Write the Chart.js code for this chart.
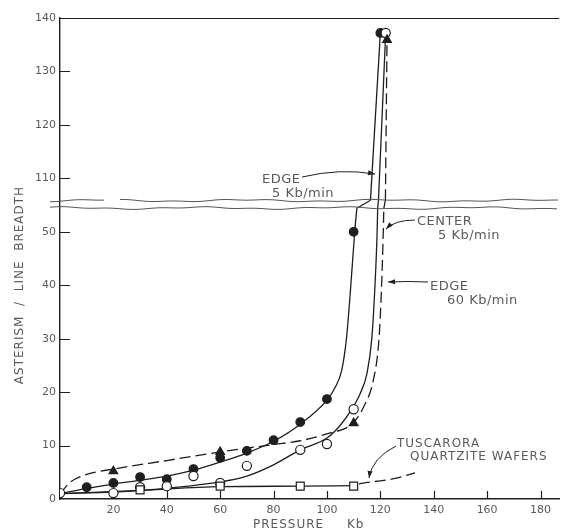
<!DOCTYPE html>
<html>
<head>
<meta charset="utf-8">
<script src="https://cdn.jsdelivr.net/npm/chart.js@4.4.1/dist/chart.umd.min.js"></script>
<style>
  html, body { margin: 0; padding: 0; background: #fff; }
  #wrap { width: 566px; height: 531px; }
</style>
</head>
<body>
<div id="wrap"><canvas id="chart" width="566" height="531"></canvas></div>
<script>
// measured points (pressure Kb, asterism / line breadth)
const edge5X = [10, 20, 30, 40, 50, 60, 70, 80, 90, 100, 110, 120];
const edge5Y = [2.2, 3.0, 4.1, 3.7, 5.6, 7.7, 9.0, 11.0, 14.4, 18.7, 50, 137.2];
const center5X = [0, 20, 30, 40, 50, 60, 70, 90, 100, 110, 122];
const center5Y = [1.1, 1.1, 2.2, 2.4, 4.3, 3.0, 6.2, 9.2, 10.3, 16.8, 137.2];
const edge60X = [20, 60, 110, 122.5];
const edge60Y = [5.2, 8.8, 14.2, 135.9];
const waferX = [30, 60, 90, 110];
const waferY = [1.7, 2.4, 2.4, 2.4];

// hand drawn curves
const curveEdge5X = [0, 10, 20, 30, 40, 50, 60, 70, 80, 90, 100, 103, 105.5, 107.3, 108.8, 110.4, 111.2, 116.3, 120];
const curveEdge5Y = [1, 2, 2.8, 3.5, 4.3, 5.4, 6.9, 8.6, 10.8, 14, 18.5, 20.8, 24, 30, 39, 50, 54.4, 105.9, 137.2];
const curveCenter5X = [0, 20, 40, 60, 70, 80, 90, 100, 105, 109.3, 112.5, 115, 116.8, 117.9, 118.8, 119, 119.3, 122];
const curveCenter5Y = [1, 1.3, 2, 3.2, 4.3, 6.4, 9.2, 11.4, 13.8, 16.8, 19.8, 23.5, 30, 39, 50, 54.4, 105.9, 137.2];
const curveEdge60X = [0, 4, 10, 20, 40, 60, 80, 90, 100, 109.7, 114, 117.4, 119.5, 120.4, 121.1, 121.3, 121.9, 122.5];
const curveEdge60Y = [1, 3.2, 4.6, 5.6, 7.2, 8.8, 10.2, 10.9, 12.2, 14.2, 17.5, 22.3, 30, 39, 50, 54.4, 105.9, 135.9];
const curveWaferX = [0, 30, 60, 90, 110];
const curveWaferY = [1, 1.6, 2.3, 2.4, 2.5];
const curveWaferExtX = [112, 115, 120, 126, 133];
const curveWaferExtY = [2.8, 3.1, 3.4, 3.9, 4.9];

// axis
const xTickStep = 20;
const yTickStep = 10;
const breakLow = 55;    // top of lower segment
const breakHigh = 105;  // bottom of upper segment
const yTop = 140;

const ink = '#1e1e1e';
const textInk = '#5a5a5a';
const font = '"DejaVu Sans", "Liberation Sans", sans-serif';

// compress the broken part of the y axis
function toAxis(v) {
  return v <= breakLow ? v : v - (breakHigh - breakLow);
}
function pts(xs, ys) {
  return xs.map((x, i) => ({ x: x, y: toAxis(ys[i]) }));
}

function curveSet(data, dashed, smooth) {
  return {
    data: data,
    showLine: true,
    borderColor: ink,
    borderWidth: 1.3,
    borderDash: dashed ? [11, 5] : [],
    cubicInterpolationMode: smooth ? 'monotone' : 'default',
    tension: 0,
    pointRadius: 0,
    order: 2
  };
}
// a curve is drawn in its lower and upper parts, joined straight across the break
function curve(xs, ys, dashed) {
  const all = pts(xs, ys);
  const lower = all.filter((p, i) => ys[i] <= breakLow);
  const upper = all.filter((p, i) => ys[i] >= breakHigh);
  const sets = [curveSet(lower, dashed, true)];
  if (upper.length) {
    sets.push(curveSet([lower[lower.length - 1], upper[0]], dashed, false));
    sets.push(curveSet(upper, dashed, false));
  }
  return sets;
}
function marks(xs, ys, style, filled, r) {
  return {
    data: pts(xs, ys),
    showLine: false,
    pointStyle: style,
    pointRadius: r,
    pointBackgroundColor: filled ? ink : '#fff',
    pointBorderColor: ink,
    pointBorderWidth: 1.2,
    order: 1
  };
}

function label(ctx, text, x, y, size, spacing) {
  ctx.font = size + 'px ' + font;
  ctx.letterSpacing = spacing + 'px';
  ctx.fillText(text, x, y);
}

function leader(ctx, p0, c, p1) {
  ctx.beginPath();
  ctx.moveTo(p0[0], p0[1]);
  ctx.quadraticCurveTo(c[0], c[1], p1[0], p1[1]);
  ctx.stroke();
  const a = Math.atan2(p1[1] - c[1], p1[0] - c[0]);
  ctx.beginPath();
  ctx.moveTo(p1[0], p1[1]);
  ctx.lineTo(p1[0] - 7 * Math.cos(a) + 2.5 * Math.sin(a), p1[1] - 7 * Math.sin(a) - 2.5 * Math.cos(a));
  ctx.lineTo(p1[0] - 7 * Math.cos(a) - 2.5 * Math.sin(a), p1[1] - 7 * Math.sin(a) + 2.5 * Math.cos(a));
  ctx.closePath();
  ctx.fill();
}

function wavy(ctx, x0, x1, y, phase) {
  ctx.beginPath();
  for (let x = x0; x <= x1; x += 3) {
    const dy = 0.9 * Math.sin(x * 0.045 + phase) + 0.5 * Math.sin(x * 0.13 + 1 + phase);
    if (x === x0) ctx.moveTo(x, y + dy); else ctx.lineTo(x, y + dy);
  }
  ctx.stroke();
}

const extras = {
  id: 'extras',
  beforeDatasetsDraw(chart) {
    const { ctx, chartArea: a, scales: { x, y } } = chart;
    ctx.save();
    ctx.strokeStyle = ink;
    ctx.lineWidth = 1.2;
    ctx.beginPath();
    ctx.moveTo(a.left, a.top + 0.5);
    ctx.lineTo(a.right, a.top + 0.5);
    // ticks point into the plot
    x.ticks.forEach(t => {
      if (t.value === 0) return;
      const px = Math.round(x.getPixelForValue(t.value)) + 0.5;
      ctx.moveTo(px, a.bottom);
      ctx.lineTo(px, a.bottom - 8);
    });
    y.ticks.forEach(t => {
      if (t.value === 0) return;
      const py = Math.round(y.getPixelForValue(t.value)) + 0.5;
      ctx.moveTo(a.left, py);
      ctx.lineTo(a.left + 10, py);
    });
    ctx.stroke();
    ctx.restore();
  },
  afterDatasetsDraw(chart) {
    const { ctx, chartArea: a, scales: { y } } = chart;
    const yb = y.getPixelForValue(breakLow);
    ctx.save();
    ctx.strokeStyle = '#555';
    ctx.lineWidth = 1;
    wavy(ctx, a.left - 10, a.left + 44, yb - 4.5, 0);
    wavy(ctx, a.left + 60, a.right, yb - 4.5, 0);
    wavy(ctx, a.left - 10, a.right, yb + 3, 2);
    ctx.restore();
  },
  afterDraw(chart) {
    const { ctx } = chart;
    ctx.save();
    ctx.fillStyle = textInk;
    ctx.strokeStyle = ink;
    ctx.lineWidth = 1;
    ctx.textBaseline = 'alphabetic';
    ctx.textAlign = 'left';

    label(ctx, 'EDGE', 262, 183, 13, 0.5);
    label(ctx, '5 Kb/min', 272, 197, 13, 0.5);
    label(ctx, 'CENTER', 417, 225, 13, 0.5);
    label(ctx, '5 Kb/min', 438, 239, 13, 0.5);
    label(ctx, 'EDGE', 430, 290, 13, 0.5);
    label(ctx, '60 Kb/min', 447, 304, 13, 0.5);
    label(ctx, 'TUSCARORA', 397, 447, 12, 1);
    label(ctx, 'QUARTZITE WAFERS', 410, 460, 12, 1);

    ctx.fillStyle = ink;
    leader(ctx, [302, 177], [340, 168], [375, 174]);
    leader(ctx, [415, 220], [395, 220], [386, 229]);
    leader(ctx, [428, 282], [408, 281], [388, 282]);
    leader(ctx, [396, 446], [372, 458], [369, 478]);

    // axis titles
    ctx.fillStyle = textInk;
    label(ctx, 'PRESSURE', 253, 528, 12, 1);
    label(ctx, 'Kb', 347, 528, 12, 1);
    ctx.translate(20, 285);
    ctx.rotate(-Math.PI / 2);
    ctx.textAlign = 'center';
    ctx.textBaseline = 'middle';
    label(ctx, 'ASTERISM  /  LINE  BREADTH', 0, 0, 12, 1);
    ctx.restore();
  }
};

new Chart(document.getElementById('chart'), {
  type: 'scatter',
  data: {
    datasets: [
      ...curve(curveEdge5X, curveEdge5Y, false),
      ...curve(curveCenter5X, curveCenter5Y, false),
      ...curve(curveEdge60X, curveEdge60Y, true),
      ...curve(curveWaferX, curveWaferY, false),
      ...curve(curveWaferExtX, curveWaferExtY, true),
      marks(waferX, waferY, 'rect', false, 5.6),
      marks(edge60X, edge60Y, 'triangle', true, 5),
      marks(center5X, center5Y, 'circle', false, 4.6),
      marks(edge5X, edge5Y, 'circle', true, 4.3)
    ]
  },
  options: {
    responsive: false,
    animation: false,
    layout: { padding: { top: 18, right: 0, bottom: 0, left: 0 } },
    plugins: { legend: { display: false }, tooltip: { enabled: false } },
    scales: {
      x: {
        type: 'linear',
        min: 0,
        max: 187,
        grid: { display: false, drawTicks: false },
        border: { display: true, color: ink, width: 1.4 },
        ticks: {
          stepSize: xTickStep,
          includeBounds: false,
          padding: 5,
          maxRotation: 0,
          color: textInk,
          font: { family: font, size: 11 },
          callback: v => (v === 0 ? '' : v)
        },
        afterFit: s => { s.height = 32; }
      },
      y: {
        type: 'linear',
        min: 0,
        max: toAxis(yTop),
        grid: { display: false, drawTicks: false },
        border: { display: true, color: ink, width: 1.4 },
        ticks: {
          stepSize: yTickStep,
          padding: 4,
          color: textInk,
          font: { family: font, size: 11 },
          callback: v => (v <= breakLow ? v : v + (breakHigh - breakLow))
        },
        afterFit: s => { s.width = 60; }
      }
    }
  },
  plugins: [extras]
});
</script>
</body>
</html>
